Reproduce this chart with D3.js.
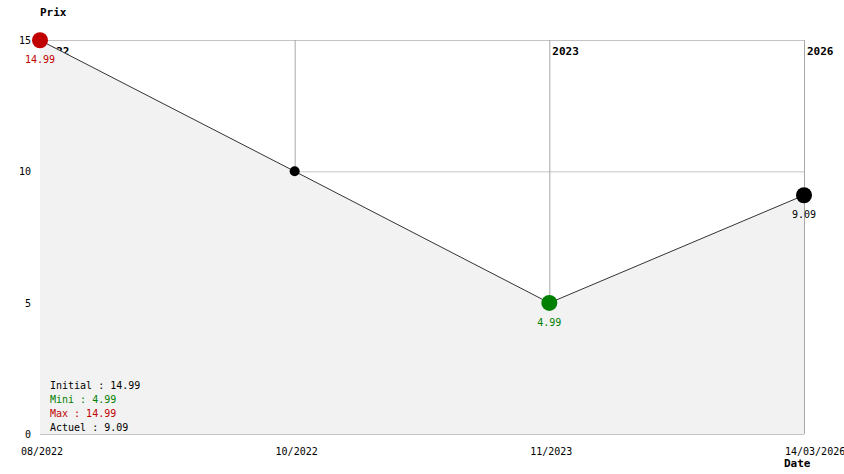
<!DOCTYPE html>
<html>
<head>
<meta charset="utf-8">
<script src="https://cdn.jsdelivr.net/npm/d3@7"></script>
<style>
  body { margin: 0; background: #fff; }
  svg { display: block; font-family: "DejaVu Sans Mono", monospace; font-size: 10px; }
  .bold { font-weight: bold; font-size: 11px; }
</style>
</head>
<body>
<svg id="chart" width="844" height="474"></svg>
<script>
// price history
const dates = ['08/2022', '10/2022', '11/2023', '14/03/2026'];
const years = ['2022', '2022', '2023', '2026'];
const prices = [14.99, 10, 4.99, 9.09];
const yTicks = [0, 5, 10, 15];
const legend = [
  { text: 'Initial : 14.99', color: '#000' },
  { text: 'Mini : 4.99', color: '#008000' },
  { text: 'Max : 14.99', color: '#c00000' },
  { text: 'Actuel : 9.09', color: '#000' }
];

const svg = d3.select('#chart');
const x = d3.scalePoint().domain(d3.range(dates.length)).range([40, 804]);
const y = d3.scaleLinear().domain([0, 15]).range([434, 40]);

const data = prices.map((v, i) => ({ i, v, date: dates[i], year: years[i] }));
const iMin = d3.minIndex(prices), iMax = d3.maxIndex(prices), iLast = prices.length - 1;

// grid (drawn first, the area covers what's below the curve)
const grid = svg.append('g');
yTicks.forEach(t => {
  grid.append('line')
    .attr('x1', x(0)).attr('x2', x(iLast))
    .attr('y1', y(t) + 0.5).attr('y2', y(t) + 0.5)
    .attr('stroke', '#c4c4c4');
});
data.slice(1).forEach(d => {
  grid.append('line')
    .attr('x1', x(d.i) + 0.5).attr('x2', x(d.i) + 0.5)
    .attr('y1', y(15)).attr('y2', y(0))
    .attr('stroke', '#a8a8a8');
});

// year labels at each change of year, under the area like the grid
data.forEach((d, k) => {
  if (k > 0 && years[k] === years[k - 1]) return;
  svg.append('text').attr('class', 'bold')
    .attr('x', x(d.i) + 3).attr('y', y(15) + 15)
    .text(d.year);
});

// area
svg.append('path')
  .datum(data)
  .attr('fill', '#f2f2f2')
  .attr('d', d3.area().x(d => x(d.i)).y0(y(0)).y1(d => y(d.v)));

// line
svg.append('path')
  .datum(data)
  .attr('fill', 'none').attr('stroke', '#333').attr('stroke-width', 1)
  .attr('d', d3.line().x(d => x(d.i)).y(d => y(d.v)));

// points + value labels
data.forEach(d => {
  let color = '#000', r = 5, label = false;
  if (d.i === iMax) { color = '#c00000'; r = 8; label = true; }
  else if (d.i === iMin) { color = '#008000'; r = 8; label = true; }
  else if (d.i === iLast) { color = '#000'; r = 8; label = true; }
  svg.append('circle').attr('cx', x(d.i)).attr('cy', y(d.v)).attr('r', r).attr('fill', color);
  if (label) {
    svg.append('text')
      .attr('x', x(d.i)).attr('y', y(d.v) + 23)
      .attr('text-anchor', 'middle').attr('fill', color)
      .text(d.v.toFixed(2));
  }
});

// y ticks
yTicks.forEach(t => {
  svg.append('text')
    .attr('x', 31).attr('y', y(t) + 4)
    .attr('text-anchor', 'end')
    .text(t);
});

// x labels (last one starts left of its point and runs to the edge)
data.forEach(d => {
  const last = d.i === iLast;
  svg.append('text')
    .attr('x', last ? x(d.i) - 19 : x(d.i) + 2).attr('y', 455)
    .attr('text-anchor', last ? 'start' : 'middle')
    .text(d.date);
});

// axis titles
svg.append('text').attr('class', 'bold').attr('x', 40).attr('y', 16).text('Prix');
svg.append('text').attr('class', 'bold').attr('x', 784).attr('y', 467).text('Date');

// legend
legend.forEach((l, k) => {
  svg.append('text')
    .attr('x', 50).attr('y', 389 + k * 14)
    .attr('fill', l.color)
    .text(l.text);
});
</script>
</body>
</html>
